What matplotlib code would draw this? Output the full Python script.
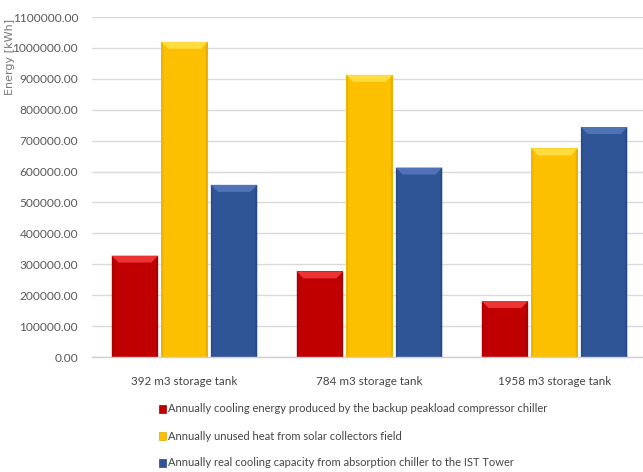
import matplotlib
matplotlib.use("Agg")
import matplotlib.pyplot as plt
from matplotlib.patches import Polygon, Rectangle
from matplotlib.transforms import IdentityTransform
from matplotlib.ticker import FuncFormatter, MultipleLocator
import numpy as np

categories = ["392 m3 storage tank", "784 m3 storage tank", "1958 m3 storage tank"]
series_names = [
    "Annually cooling energy produced by the backup peakload compressor chiller",
    "Annually unused heat from solar collectors field",
    "Annually real cooling capacity from absorption chiller to the IST Tower",
]
compressor_chiller = [328000, 277000, 181000]
unused_solar_heat = [1020000, 913000, 675000]
absorption_cooling = [557000, 613000, 744000]

colors = ["#C00000", "#FCC000", "#2F5597"]
bevel_light = ["#EC3434", "#FFDC40", "#5073B8"]
bevel_dark = ["#A00000", "#E0A800", "#25467E"]

plt.rcParams["font.family"] = ["Lato", "DejaVu Sans"]

W, H = 643, 472
fig = plt.figure(figsize=(W / 100, H / 100), dpi=100)
left_px, right_px, top_px, bottom_px = 92, 647, 17, 357
ax = fig.add_axes([left_px / W, 1 - bottom_px / H,
                   (right_px - left_px) / W, (bottom_px - top_px) / H])

x = np.arange(len(categories))
width = 0.252
step = 0.268
series = [compressor_chiller, unused_solar_heat, absorption_cooling]
bar_groups = []
for i, vals in enumerate(series):
    bars = ax.bar(x + (i - 1) * step, vals, width, color=colors[i],
                  edgecolor="none", zorder=3, label=series_names[i])
    bar_groups.append(bars)

ax.set_xlim(-0.5, 2.5)
ax.set_ylim(0, 1100000)
ax.yaxis.set_major_locator(MultipleLocator(100000))
ax.yaxis.set_major_formatter(FuncFormatter(lambda v, p: f"{v:.2f}"))
ax.grid(axis="y", color="#d9d9d9", linewidth=1.0, zorder=0)
ax.set_axisbelow(True)
for s in ["left", "right", "top"]:
    ax.spines[s].set_visible(False)
ax.spines["bottom"].set_color("#d0d0d0")
ax.spines["bottom"].set_linewidth(1.0)
ax.spines["bottom"].set_zorder(4)
ax.tick_params(axis="both", length=0)
ax.tick_params(axis="y", pad=10, labelsize=8.6, labelcolor="#595959")
ax.set_xticks(x)
ax.set_xticklabels(categories, fontsize=8.4, color="#444444")
ax.tick_params(axis="x", pad=14)

fig.text(10.5 / W, 1 - 57 / H, "Energy [kWh]", rotation=90, ha="center",
         va="center", fontsize=8.0, color="#777777", family="DejaVu Sans")

# bevelled look on each bar, built from the drawn bar extents
fig.canvas.draw()
b = 7
for i, bars in enumerate(bar_groups):
    for p in bars:
        (x0, y0), (x1, y1) = ax.transData.transform(
            [(p.get_x(), 0), (p.get_x() + p.get_width(), p.get_height())])
        bb = min(b, (x1 - x0) / 2)
        top = Polygon([(x0, y1), (x1, y1), (x1 - bb, y1 - bb), (x0 + bb, y1 - bb)],
                      closed=True, transform=IdentityTransform(),
                      facecolor=bevel_light[i], edgecolor="none", zorder=4)
        ax.add_artist(top)
        lside = Polygon([(x0, y1), (x0 + 2, y1 - 2), (x0 + 2, y0), (x0, y0)],
                        closed=True, transform=IdentityTransform(),
                        facecolor=bevel_dark[i], edgecolor="none", zorder=4, alpha=0.5)
        ax.add_artist(lside)
        rside = Polygon([(x1, y1), (x1 - 2, y1 - 2), (x1 - 2, y0), (x1, y0)],
                        closed=True, transform=IdentityTransform(),
                        facecolor=bevel_dark[i], edgecolor="none", zorder=4, alpha=0.7)
        ax.add_artist(rside)

leg_y = [409, 436, 463]
for i, name in enumerate(series_names):
    fig.patches.append(Rectangle(
        (159 / W, 1 - (leg_y[i] + 4) / H), 7 / W, 8 / H,
        transform=fig.transFigure, facecolor=colors[i], edgecolor=bevel_dark[i],
        linewidth=0.5))
    fig.text(168 / W, 1 - leg_y[i] / H, name, ha="left", va="center",
             fontsize=8.0, color="#444444")

fig.savefig("out.png", dpi=100, facecolor="white")
